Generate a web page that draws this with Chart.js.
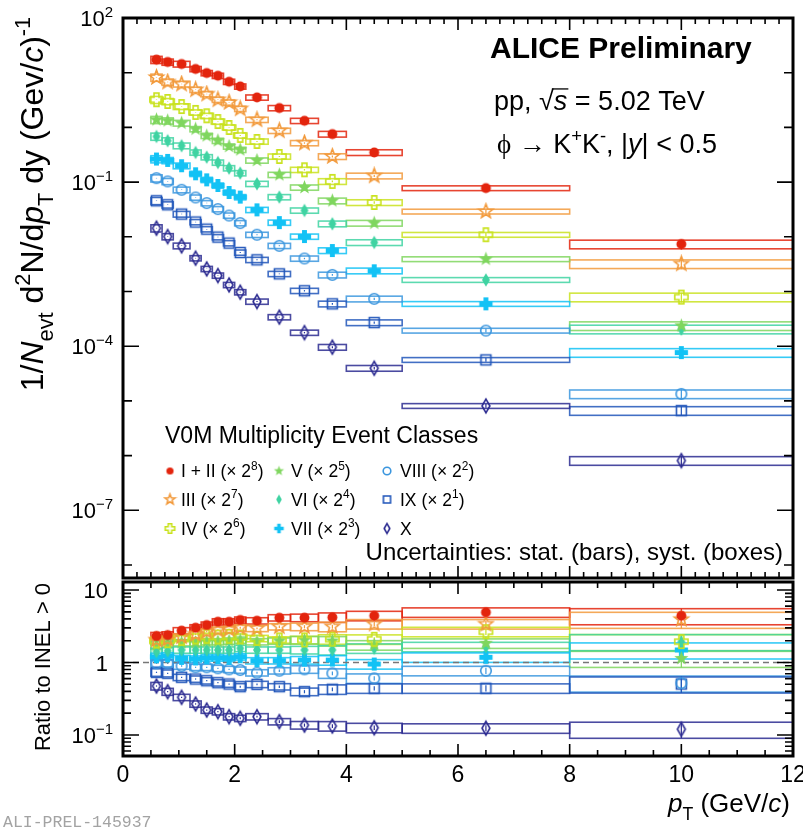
<!DOCTYPE html>
<html>
<head>
<meta charset="utf-8">
<script src="https://cdn.jsdelivr.net/npm/chart.js@4.4.1/dist/chart.umd.min.js"></script>
<style>
  html, body { margin: 0; padding: 0; background: #fff; }
  #wrap { position: relative; width: 803px; height: 828px; overflow: hidden; }
  canvas { position: absolute; left: 0; }
  #spec { top: 0; }
  #ratio { top: 575px; }
</style>
</head>
<body>
<div id="wrap">
  <canvas id="spec" width="803" height="590"></canvas>
  <canvas id="ratio" width="803" height="253"></canvas>
</div>
<script>
// pT binning (GeV/c)
const ptLo = [0.5, 0.7, 0.9, 1.2, 1.4, 1.6, 1.8, 2.0, 2.2, 2.6, 3.0, 3.5, 4.0, 5.0, 8.0];
const ptHi = [0.7, 0.9, 1.2, 1.4, 1.6, 1.8, 2.0, 2.2, 2.6, 3.0, 3.5, 4.0, 5.0, 8.0, 12.0];
const ptCenter = [0.6, 0.8, 1.05, 1.3, 1.5, 1.7, 1.9, 2.1, 2.4, 2.8, 3.25, 3.75, 4.5, 6.5, 10.0];

// spectra, already multiplied by the 2^n offsets shown in the legend
const specI_II = [17.3, 15.7, 14.4, 11.7, 9.86, 8.8, 6.84, 5.61, 3.53, 2.26, 1.32, 0.755, 0.348, 0.0776, 0.00735];
const specIII  = [8.19, 6.75, 6.21, 4.88, 4.07, 3.21, 2.86, 2.19, 1.38, 0.869, 0.518, 0.294, 0.130, 0.029, 0.0032];
const specIV   = [3.21, 2.98, 2.41, 1.88, 1.63, 1.28, 0.997, 0.713, 0.553, 0.294, 0.168, 0.103, 0.0424, 0.0109, 0.00079];
const specV    = [1.38, 1.32, 1.20, 0.933, 0.703, 0.570, 0.449, 0.390, 0.249, 0.136, 0.0798, 0.0455, 0.0178, 0.00391, 0.000236];
const specVI   = [0.683, 0.570, 0.462, 0.348, 0.286, 0.228, 0.180, 0.146, 0.0931, 0.0532, 0.0303, 0.0173, 0.00787, 0.00163, 0.000205];
const specVII  = [0.264, 0.249, 0.199, 0.142, 0.110, 0.0867, 0.0646, 0.0532, 0.0311, 0.0182, 0.0101, 0.00561, 0.00239, 0.000594, 0.0000764];
const specVIII = [0.118, 0.103, 0.0723, 0.0523, 0.0413, 0.0321, 0.0245, 0.0178, 0.0109, 0.00684, 0.00401, 0.00201, 0.000733, 0.000193, 0.0000134];
const specIX   = [0.0455, 0.0385, 0.0260, 0.0186, 0.0138, 0.00987, 0.00766, 0.00516, 0.00379, 0.00210, 0.00103, 0.000594, 0.000270, 0.0000562, 0.00000664];
const specX    = [0.0144, 0.0101, 0.00684, 0.00407, 0.00259, 0.00196, 0.00132, 0.000973, 0.000655, 0.000340, 0.000177, 0.0000959, 0.0000396, 0.0000081, 0.00000081];

// ratios to INEL>0
const ratioI_II = [2.32, 2.39, 2.75, 3.02, 3.29, 3.65, 3.65, 3.86, 3.77, 4.15, 4.15, 4.20, 4.42, 4.93, 4.42];
const ratioIII  = [2.04, 2.09, 2.27, 2.45, 2.66, 2.81, 2.87, 3.02, 2.96, 3.12, 3.12, 3.12, 3.40, 3.40, 3.94];
const ratioIV   = [1.98, 2.00, 2.15, 2.25, 2.30, 2.25, 2.30, 2.25, 2.15, 2.05, 2.05, 2.10, 2.09, 2.66, 1.94];
const ratioV    = [1.74, 1.84, 1.88, 1.88, 1.94, 1.94, 1.98, 2.04, 1.94, 1.98, 2.04, 1.98, 1.74, 1.84, 1.14];
const ratioVI   = [1.41, 1.45, 1.49, 1.49, 1.49, 1.49, 1.49, 1.57, 1.49, 1.49, 1.49, 1.49, 1.57, 1.65, 1.94];
const ratioVII  = [1.20, 1.23, 1.14, 1.12, 1.16, 1.16, 1.14, 1.20, 1.06, 1.06, 1.08, 1.08, 0.953, 1.18, 1.49];
const ratioVIII = [0.975, 0.975, 0.895, 0.859, 0.859, 0.832, 0.805, 0.788, 0.723, 0.770, 0.805, 0.710, 0.605, 0.770, 0.52];
const ratioIX   = [0.732, 0.710, 0.625, 0.592, 0.561, 0.526, 0.505, 0.464, 0.500, 0.464, 0.396, 0.427, 0.441, 0.441, 0.505];
const ratioX    = [0.474, 0.396, 0.331, 0.268, 0.221, 0.210, 0.179, 0.170, 0.179, 0.153, 0.137, 0.133, 0.126, 0.124, 0.120];

// relative uncertainties per pT bin
const specSys  = [0.15, 0.13, 0.12, 0.11, 0.11, 0.11, 0.11, 0.11, 0.11, 0.11, 0.11, 0.12, 0.12, 0.10, 0.18];
const specStat = [0.01, 0.01, 0.01, 0.01, 0.01, 0.01, 0.01, 0.02, 0.02, 0.02, 0.03, 0.04, 0.05, 0.08, 0.20];
const ratioSys  = [0.12, 0.11, 0.10, 0.10, 0.10, 0.10, 0.10, 0.10, 0.10, 0.10, 0.12, 0.15, 0.15, 0.15, 0.25];
const ratioStat = [0.02, 0.02, 0.02, 0.02, 0.02, 0.02, 0.02, 0.03, 0.03, 0.04, 0.05, 0.06, 0.07, 0.10, 0.25];

const classLabels = ['I + II', 'III', 'IV', 'V', 'VI', 'VII', 'VIII', 'IX', 'X'];
const scaleExp = ['8', '7', '6', '5', '4', '3', '2', '1', null];

const spectra = [specI_II, specIII, specIV, specV, specVI, specVII, specVIII, specIX, specX];
const ratios = [ratioI_II, ratioIII, ratioIV, ratioV, ratioVI, ratioVII, ratioVIII, ratioIX, ratioX];

const colors = ['#e3240d', '#f29a3c', '#c9e21e', '#7fd65e', '#3fd3a2', '#12c2f5', '#3b96de', '#2156ba', '#2c2b91'];
const shapes = ['circle', 'star', 'cross', 'star', 'diamond', 'cross', 'circle', 'square', 'diamond'];
const filled = [true, false, false, true, true, true, false, false, false];
const msize  = [6.2, 7.4, 7.2, 7.4, 6.8, 7.2, 6.6, 6.2, 6.8];

const SANS = '"Liberation Sans", Arial, Helvetica, sans-serif';
const SERIF = '"Liberation Serif", "DejaVu Serif", serif';

function makeMarker(shape, color, fill, s) {
  const n = Math.ceil(s * 2 + 4);
  const c = document.createElement('canvas');
  c.width = c.height = n;
  const g = c.getContext('2d');
  g.translate(n / 2, n / 2);
  g.beginPath();
  if (shape === 'circle') {
    g.arc(0, 0, s * 0.8, 0, Math.PI * 2);
  } else if (shape === 'square') {
    g.rect(-s * 0.8, -s * 0.8, s * 1.6, s * 1.6);
  } else if (shape === 'diamond') {
    g.moveTo(0, -s); g.lineTo(s * 0.58, 0); g.lineTo(0, s); g.lineTo(-s * 0.58, 0); g.closePath();
  } else if (shape === 'cross') {
    const a = s * 0.92, t = s * 0.34;
    const pts = [[-t, -a], [t, -a], [t, -t], [a, -t], [a, t], [t, t], [t, a], [-t, a], [-t, t], [-a, t], [-a, -t], [-t, -t]];
    g.moveTo(pts[0][0], pts[0][1]);
    pts.slice(1).forEach(p => g.lineTo(p[0], p[1]));
    g.closePath();
  } else if (shape === 'star') {
    for (let k = 0; k < 10; k++) {
      const r = k % 2 ? s * 0.42 : s;
      const a = -Math.PI / 2 + k * Math.PI / 5;
      if (k === 0) g.moveTo(r * Math.cos(a), r * Math.sin(a)); else g.lineTo(r * Math.cos(a), r * Math.sin(a));
    }
    g.closePath();
  }
  if (fill) { g.fillStyle = color; g.fill(); }
  else { g.strokeStyle = color; g.lineWidth = 1.6; g.stroke(); }
  return c;
}

const markers = shapes.map((sh, i) => makeMarker(sh, colors[i], filled[i], msize[i]));
const legendMarkers = shapes.map((sh, i) => makeMarker(sh, colors[i], filled[i], msize[i] * 0.72));

// text with super/subscripts: flags ^ sup, _ sub, i italic, b bold, s serif, o overline
function drawRich(ctx, parts, x, y, size, align, color) {
  let w = 0;
  const items = parts.map(([t, f]) => {
    const small = f.includes('^') || f.includes('_');
    const s = small ? size * 0.68 : size;
    const font = (f.includes('i') ? 'italic ' : '') + (f.includes('b') ? 'bold ' : '') + s.toFixed(1) + 'px ' + (f.includes('s') ? SERIF : SANS);
    ctx.font = font;
    const tw = ctx.measureText(t).width;
    const dy = f.includes('^') ? -size * 0.42 : (f.includes('_') ? size * 0.3 : 0);
    const it = { t, font, tw, dy, over: f.includes('o'), x: w };
    w += tw;
    return it;
  });
  const x0 = align === 'right' ? x - w : (align === 'center' ? x - w / 2 : x);
  ctx.fillStyle = color || '#000';
  ctx.textAlign = 'left';
  ctx.textBaseline = 'alphabetic';
  items.forEach(it => {
    ctx.font = it.font;
    ctx.fillText(it.t, x0 + it.x, y + it.dy);
    if (it.over) {
      ctx.strokeStyle = color || '#000';
      ctx.lineWidth = 1.3;
      ctx.beginPath();
      ctx.moveTo(x0 + it.x - 2, y - size * 0.78);
      ctx.lineTo(x0 + it.x + it.tw + 1, y - size * 0.78);
      ctx.stroke();
    }
  });
  return w;
}

// syst boxes and stat bars for every class
function uncertaintyPlugin(values, sys, stat) {
  return {
    id: 'uncert',
    beforeDatasetsDraw(chart) {
      const { ctx, chartArea: a, scales: { x, y } } = chart;
      ctx.save();
      ctx.beginPath();
      ctx.rect(a.left, a.top, a.right - a.left, a.bottom - a.top);
      ctx.clip();
      values.forEach((arr, i) => {
        ctx.strokeStyle = colors[i];
        ctx.globalAlpha = 0.85;
        ctx.lineWidth = 1.6;
        arr.forEach((v, j) => {
          const x1 = x.getPixelForValue(ptLo[j]), x2 = x.getPixelForValue(ptHi[j]);
          const y1 = y.getPixelForValue(v * (1 + sys[j])), y2 = y.getPixelForValue(v * (1 - sys[j]));
          ctx.strokeRect(x1, y1, x2 - x1, y2 - y1);
        });
        ctx.globalAlpha = 1;
        ctx.lineWidth = 1.2;
        arr.forEach((v, j) => {
          const xc = x.getPixelForValue(ptCenter[j]);
          ctx.beginPath();
          ctx.moveTo(xc, y.getPixelForValue(v * (1 + stat[j])));
          ctx.lineTo(xc, y.getPixelForValue(v * (1 - stat[j])));
          ctx.stroke();
        });
      });
      ctx.restore();
    }
  };
}

// black frame with inward ticks on all four sides
function drawFrame(chart, xStep, yTicks) {
  const { ctx, chartArea: a, scales: { x } } = chart;
  ctx.save();
  ctx.strokeStyle = '#000';
  ctx.lineWidth = 1.6;
  ctx.beginPath();
  for (let v = 0; v <= 12.0001; v += xStep) {
    const px = x.getPixelForValue(v);
    const len = Math.abs(v / 2 - Math.round(v / 2)) < 1e-6 ? 12 : 6;
    ctx.moveTo(px, a.bottom); ctx.lineTo(px, a.bottom - len);
    ctx.moveTo(px, a.top); ctx.lineTo(px, a.top + len);
  }
  yTicks.forEach(([py, len]) => {
    ctx.moveTo(a.left, py); ctx.lineTo(a.left + len, py);
    ctx.moveTo(a.right, py); ctx.lineTo(a.right - len, py);
  });
  ctx.stroke();
  ctx.lineWidth = 3;
  ctx.strokeRect(a.left, a.top, a.right - a.left, a.bottom - a.top);
  ctx.restore();
}

function makeDatasets(values) {
  return values.map((arr, i) => ({
    label: classLabels[i],
    data: ptCenter.map((pt, j) => ({ x: pt, y: arr[j] })),
    pointStyle: markers[i],
    pointRadius: 5,
    pointHoverRadius: 5,
    showLine: false
  }));
}

const specDecor = {
  id: 'specDecor',
  afterDraw(chart) {
    const { ctx, scales: { y } } = chart;
    const ticks = [];
    for (let e = -8; e <= 2; e++) {
      const labelled = ((e % 3) + 3) % 3 === 2;
      ticks.push([y.getPixelForValue(Math.pow(10, e)), labelled ? 16 : 9]);
    }
    drawFrame(chart, 0.25, ticks);

    ctx.save();
    [2, -1, -4, -7].forEach(e => {
      const py = y.getPixelForValue(Math.pow(10, e));
      drawRich(ctx, [['10', ''], [String(e).replace('-', '\u2212'), '^']], 113, py + 8, 22, 'right');
    });

    // y axis title
    ctx.translate(43, 204);
    ctx.rotate(-Math.PI / 2);
    drawRich(ctx, [['1/', ''], ['N', 'i'], ['evt', '_'], [' d', ''], ['2', '^'], ['N/d', ''], ['p', 'i'], ['T', '_'],
      [' dy (Gev/', ''], ['c', 'i'], [')', ''], ['-1', '^']], 0, 0, 32, 'center');
    ctx.restore();

    ctx.save();
    drawRich(ctx, [['ALICE Preliminary', 'b']], 490, 58, 30, 'left');
    drawRich(ctx, [['pp, ', ''], ['\u221A', ''], ['s', 'io'], [' = 5.02 TeV', '']], 494, 110, 27, 'left');
    drawRich(ctx, [['\u03D5', 's'], [' \u2192 K', ''], ['+', '^'], ['K', ''], ['-', '^'], [', |', ''], ['y', 'i'], ['| < 0.5', '']], 497, 153, 27, 'left');

    // legend
    drawRich(ctx, [['V0M Multiplicity Event Classes', '']], 165, 443, 23, 'left');
    const colX = [[170, 181], [279, 291], [387, 400]];
    const rowY = [471, 499.5, 528.5];
    classLabels.forEach((lab, i) => {
      const cx = colX[Math.floor(i / 3)], ry = rowY[i % 3];
      const m = legendMarkers[i];
      ctx.drawImage(m, cx[0] - m.width / 2, ry - m.height / 2);
      const parts = scaleExp[i] ? [[lab + ' (\u00D7 2', ''], [scaleExp[i], '^'], [')', '']] : [[lab, '']];
      drawRich(ctx, parts, cx[1], ry + 6, 17.5, 'left');
    });
    drawRich(ctx, [['Uncertainties: stat. (bars), syst. (boxes)', '']], 783, 560, 24, 'right');
    ctx.restore();
  }
};

const ratioDecor = {
  id: 'ratioDecor',
  beforeDatasetsDraw(chart) {
    const { ctx, chartArea: a, scales: { y } } = chart;
    ctx.save();
    ctx.strokeStyle = '#777';
    ctx.lineWidth = 1.6;
    ctx.setLineDash([6, 4]);
    ctx.beginPath();
    ctx.moveTo(a.left, y.getPixelForValue(1));
    ctx.lineTo(a.right, y.getPixelForValue(1));
    ctx.stroke();
    ctx.restore();
  },
  afterDraw(chart) {
    const { ctx, chartArea: a, scales: { x, y } } = chart;
    const ticks = [];
    for (let e = -2; e <= 1; e++) {
      for (let k = 1; k <= 9; k++) {
        const v = k * Math.pow(10, e);
        if (v >= y.min && v <= y.max) ticks.push([y.getPixelForValue(v), k === 1 ? 16 : 8]);
      }
    }
    drawFrame(chart, 0.5, ticks);

    ctx.save();
    drawRich(ctx, [['10', '']], 108, y.getPixelForValue(10) + 8, 22, 'right');
    drawRich(ctx, [['1', '']], 108, y.getPixelForValue(1) + 8, 22, 'right');
    drawRich(ctx, [['10', ''], ['\u22121', '^']], 113, y.getPixelForValue(0.1) + 8, 22, 'right');
    for (let v = 0; v <= 12; v += 2) {
      drawRich(ctx, [[String(v), '']], x.getPixelForValue(v), a.bottom + 26, 23, 'center');
    }
    drawRich(ctx, [['p', 'i'], ['T', '_'], [' (GeV/', ''], ['c', 'i'], [')', '']], 790, a.bottom + 56, 26, 'right');

    ctx.font = '16.5px "Liberation Mono", "DejaVu Sans Mono", monospace';
    ctx.fillStyle = '#a3a3a3';
    ctx.textAlign = 'left';
    ctx.fillText('ALI-PREL-145937', 3, 252);

    ctx.translate(50, 92);
    ctx.rotate(-Math.PI / 2);
    drawRich(ctx, [['Ratio to INEL > 0', '']], 0, 0, 22, 'center');
    ctx.restore();
  }
};

const baseOptions = {
  responsive: false,
  animation: false,
  events: [],
  plugins: { legend: { display: false }, tooltip: { enabled: false } }
};

new Chart(document.getElementById('spec'), {
  type: 'scatter',
  data: { datasets: makeDatasets(spectra) },
  options: Object.assign({}, baseOptions, {
    layout: { padding: { left: 123, right: 10, top: 18, bottom: 12 } },
    scales: {
      x: { type: 'linear', min: 0, max: 12, display: false },
      y: { type: 'logarithmic', min: 5.78e-9, max: 100, display: false }
    }
  }),
  plugins: [uncertaintyPlugin(spectra, specSys, specStat), specDecor]
});

new Chart(document.getElementById('ratio'), {
  type: 'scatter',
  data: { datasets: makeDatasets(ratios) },
  options: Object.assign({}, baseOptions, {
    layout: { padding: { left: 123, right: 10, top: 7, bottom: 72 } },
    scales: {
      x: { type: 'linear', min: 0, max: 12, display: false },
      y: { type: 'logarithmic', min: 0.0513, max: 12.9, display: false }
    }
  }),
  plugins: [uncertaintyPlugin(ratios, ratioSys, ratioStat), ratioDecor]
});
</script>
</body>
</html>
